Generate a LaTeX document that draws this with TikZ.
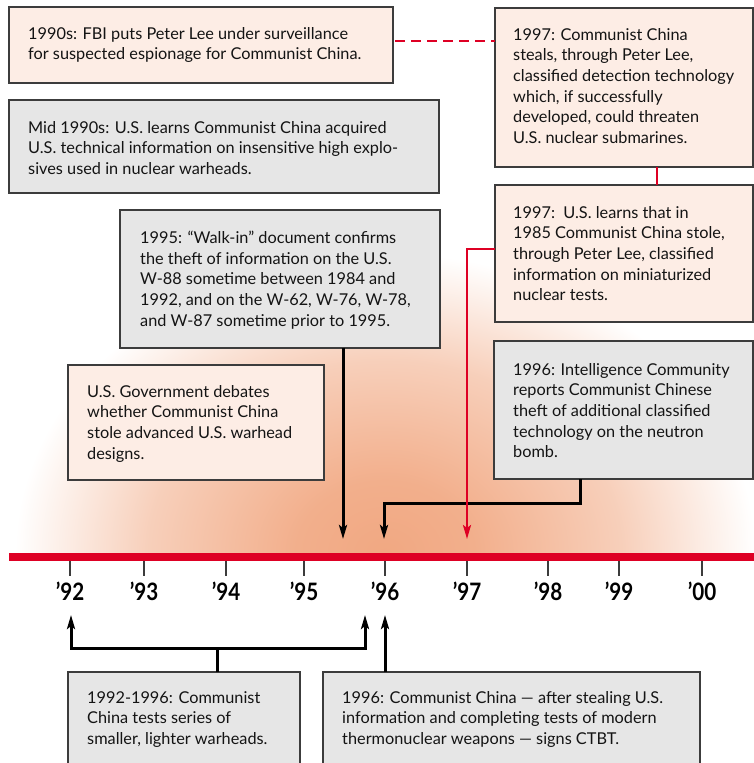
\documentclass[tikz,border=0pt]{standalone}
\usepackage{fontspec}
\setmainfont{Lato}
\usetikzlibrary{calc,arrows.meta}
\definecolor{redC}{RGB}{222,0,36}
\definecolor{peachC}{RGB}{253,237,229}
\definecolor{grayC}{RGB}{230,230,230}
\definecolor{edgeC}{RGB}{60,60,60}
\definecolor{glowC}{RGB}{241,168,130}
\pgfdeclareradialshading{glowshade}{\pgfpoint{0bp}{0bp}}{color(0bp)=(glowC); color(6bp)=(glowC!92!white); color(16bp)=(glowC!55!white); color(25bp)=(white); color(50bp)=(white)}
\newcommand\mystrut{\rule{0pt}{12pt}}
\tikzset{
  boxbase/.style={draw=edgeC, line width=1.2pt, rectangle, inner sep=0pt, outer sep=0pt, anchor=north west},
  pbox/.style={boxbase, fill=peachC},
  gbox/.style={boxbase, fill=grayC},
  txt/.style={anchor=north west, inner sep=0pt, align=left, font=\fontsize{16.3}{20.6}\selectfont, text=black!92},
  yearlab/.style={anchor=base, inner sep=0pt, font=\fontsize{24}{24}\selectfont\bfseries},
  tipstyle/.tip={Stealth[length=14pt,width=8pt,inset=3pt]},
  barrow/.style={line width=3pt, -tipstyle},
  bline/.style={line width=3pt},
  rarrow/.style={line width=2.4pt, draw=redC, -{Stealth[length=14pt,width=8pt,inset=3pt]}},
  rline/.style={line width=2.4pt, draw=redC},
  rdash/.style={line width=2.8pt, draw=redC, dash pattern=on 10pt off 6pt},
  tickline/.style={line width=1.4pt, draw=edgeC}
}
\begin{document}
\begin{tikzpicture}[x=1pt,y=-1pt]
\useasboundingbox (0,0) rectangle (754,763);
% glow
\begin{scope}
\clip (0,0) rectangle (754,553);
\shade[shading=glowshade] (385,553) ellipse [x radius=370, y radius=300];
\end{scope}
% boxes
\node[pbox, minimum width=384pt, minimum height=76pt] (b1) at (9,7) {};
\node[gbox, minimum width=430pt, minimum height=93pt] (b2) at (9,100) {};
\node[pbox, minimum width=258pt, minimum height=159pt] (b3) at (495,8) {};
\node[pbox, minimum width=258pt, minimum height=137pt] (b4) at (495,185) {};
\node[gbox, minimum width=320pt, minimum height=138pt] (b5) at (120,210) {};
\node[pbox, minimum width=256pt, minimum height=115pt] (b6) at (68,365) {};
\node[gbox, minimum width=259pt, minimum height=138pt] (b7) at (494,341) {};
\node[gbox, minimum width=232pt, minimum height=100pt] (b8) at (68,672) {};
\node[gbox, minimum width=377pt, minimum height=100pt] (b9) at (323,672) {};
% texts
\node[txt] (t1) at ($(b1.north west)+(19,20)$) {\mystrut 1990s: FBI puts Peter Lee under surveillance\\for suspected espionage for Communist China.};
\node[txt] (t2) at ($(b2.north west)+(19,21)$) {\mystrut Mid 1990s: U.S. learns Communist China acquired\\U.S. technical information on insensitive high explo-\\sives used in nuclear warheads.};
\node[txt] (t3) at ($(b3.north west)+(18,20)$) {\mystrut 1997: Communist China\\steals, through Peter Lee,\\classified detection technology\\which, if successfully\\developed, could threaten\\U.S. nuclear submarines.};
\node[txt] (t4) at ($(b4.north west)+(18,21)$) {\mystrut 1997:\ \ U.S. learns that in\\1985 Communist China stole,\\through Peter Lee, classified\\information on miniaturized\\nuclear tests.};
\node[txt] (t5) at ($(b5.north west)+(20,21)$) {\mystrut 1995: “Walk-in” document confirms\\the theft of information on the U.S.\\W-88 sometime between 1984 and\\1992, and on the W-62, W-76, W-78,\\and W-87 sometime prior to 1995.};
\node[txt] (t6) at ($(b6.north west)+(19,20)$) {\mystrut U.S. Government debates\\whether Communist China\\stole advanced U.S. warhead\\designs.};
\node[txt] (t7) at ($(b7.north west)+(19,22)$) {\mystrut 1996: Intelligence Community\\reports Communist Chinese\\theft of additional classified\\technology on the neutron\\bomb.};
\node[txt] (t8) at ($(b8.north west)+(19,19)$) {\mystrut 1992-1996: Communist\\China tests series of\\smaller, lighter warheads.};
\node[txt] (t9) at ($(b9.north west)+(19,19)$) {\mystrut 1996: Communist China — after stealing U.S.\\information and completing tests of modern\\thermonuclear weapons — signs CTBT.};
% timeline
\fill[redC] (9,553) rectangle (754,561);
\foreach \xx/\lab [count=\i] in {70/92,144/93,226/94,304/95,385/96,467/97,548/98,619/99,702/00}{
  \coordinate (y\lab) at (\xx,553);
  \draw[tickline] (\xx,561) -- (\xx,576);
  \node[yearlab] (l\lab) at (\xx,600) {\scalebox{0.86}[1]{’\lab}};
}
% connectors top
\draw[rdash] ($(b1.north east)+(2,34)$) -- ($(b3.north west)+(0,33)$);
\draw[rline] ($(b3.south west)+(162,0)$) -- ($(b4.north west)+(162,0)$);
\coordinate (a95) at (343,539);
\coordinate (k96) at ($(y96)+(-1,-50)$);
\coordinate (t96) at ($(y96)+(-1,-14)$);
\coordinate (t97) at ($(y97)+(0,-14)$);
\draw[barrow] (b5.south -| a95) -- (a95);
\draw[barrow] ($(b7.south west)+(86,0)$) |- (k96) -- (t96);
\draw[rarrow] ($(b4.north west)+(0,64)$) -| (t97);
% connectors bottom
\coordinate (hl) at (71,648);
\coordinate (hr) at (365,648);
\draw[bline] ($(b8.north west)+(149,0)$) -- ($(b8.north west)+(149,-24)$);
\draw[line width=3pt, tipstyle-tipstyle] ($(hl)+(0,-33)$) -- (hl) -- (hr) -- ($(hr)+(0,-33)$);
\draw[barrow] (b9.north -| y96) -- ($(y96)+(0,62)$);
\end{tikzpicture}
\end{document}
